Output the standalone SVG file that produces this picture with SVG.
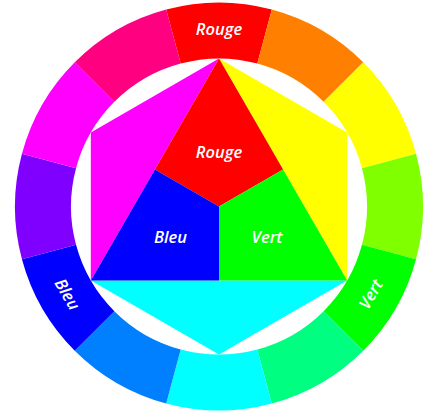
<svg xmlns="http://www.w3.org/2000/svg" width="433" height="413" viewBox="0 0 433 413">
<style>
.lbl{font-family:"Open Sans","Noto Sans",sans-serif;font-style:italic;font-weight:600;font-size:16.5px;fill:#ffffff;text-anchor:middle}
</style>
<rect width="433" height="413" fill="#ffffff"/>
<g id="ring">
<path id="seg-rouge" fill="#FF0000" d="M166.2,9.45 A204,204 0 0 1 271.8,9.45 L257.3,63.55 A148,148 0 0 0 180.7,63.55Z"/>
<path id="seg-orange" fill="#FF8000" d="M271.8,9.45 A204,204 0 0 1 363.25,62.25 L323.65,101.85 A148,148 0 0 0 257.3,63.55Z"/>
<path id="seg-jaune" fill="#FFFF00" d="M363.25,62.25 A204,204 0 0 1 416.05,153.7 L361.95,168.2 A148,148 0 0 0 323.65,101.85Z"/>
<path id="seg-chartreuse" fill="#80FF00" d="M416.05,153.7 A204,204 0 0 1 416.05,259.3 L361.95,244.8 A148,148 0 0 0 361.95,168.2Z"/>
<path id="seg-vert" fill="#00FF00" d="M416.05,259.3 A204,204 0 0 1 363.25,350.75 L323.65,311.15 A148,148 0 0 0 361.95,244.8Z"/>
<path id="seg-printemps" fill="#00FF80" d="M363.25,350.75 A204,204 0 0 1 271.8,403.55 L257.3,349.45 A148,148 0 0 0 323.65,311.15Z"/>
<path id="seg-cyan" fill="#00FFFF" d="M271.8,403.55 A204,204 0 0 1 166.2,403.55 L180.7,349.45 A148,148 0 0 0 257.3,349.45Z"/>
<path id="seg-azur" fill="#0080FF" d="M166.2,403.55 A204,204 0 0 1 74.75,350.75 L114.35,311.15 A148,148 0 0 0 180.7,349.45Z"/>
<path id="seg-bleu" fill="#0000FF" d="M74.75,350.75 A204,204 0 0 1 21.95,259.3 L76.05,244.8 A148,148 0 0 0 114.35,311.15Z"/>
<path id="seg-violet" fill="#8000FF" d="M21.95,259.3 A204,204 0 0 1 21.95,153.7 L76.05,168.2 A148,148 0 0 0 76.05,244.8Z"/>
<path id="seg-magenta" fill="#FF00FF" d="M21.95,153.7 A204,204 0 0 1 74.75,62.25 L114.35,101.85 A148,148 0 0 0 76.05,168.2Z"/>
<path id="seg-rose" fill="#FF0080" d="M74.75,62.25 A204,204 0 0 1 166.2,9.45 L180.7,63.55 A148,148 0 0 0 114.35,101.85Z"/>
<text class="lbl" x="219" y="34.5">Rouge</text>
<text class="lbl" transform="translate(66.6,294.5) rotate(60)" x="0" y="5">Bleu</text>
<text class="lbl" transform="translate(371.4,294.5) rotate(-60)" x="0" y="5">Vert</text>
</g>
<g id="hexagon">
<polygon id="tri-magenta" fill="#FF00FF" points="219,58.5 90.83,132.5 90.83,280.5"/>
<polygon id="tri-jaune" fill="#FFFF00" points="219,58.5 347.17,132.5 347.17,280.5"/>
<polygon id="tri-cyan" fill="#00FFFF" points="90.83,280.5 347.17,280.5 219,354.5"/>
</g>
<g id="triangle">
<polygon id="part-rouge" fill="#FF0000" points="219,58.5 283.08,169.5 219,206.5 154.92,169.5"/>
<polygon id="part-bleu" fill="#0000FF" points="154.92,169.5 219,206.5 219,280.5 90.83,280.5"/>
<polygon id="part-vert" fill="#00FF00" points="283.08,169.5 347.17,280.5 219,280.5 219,206.5"/>
<text class="lbl" x="219" y="158">Rouge</text>
<text class="lbl" x="170.5" y="243">Bleu</text>
<text class="lbl" x="267" y="243">Vert</text>
</g>
</svg>
